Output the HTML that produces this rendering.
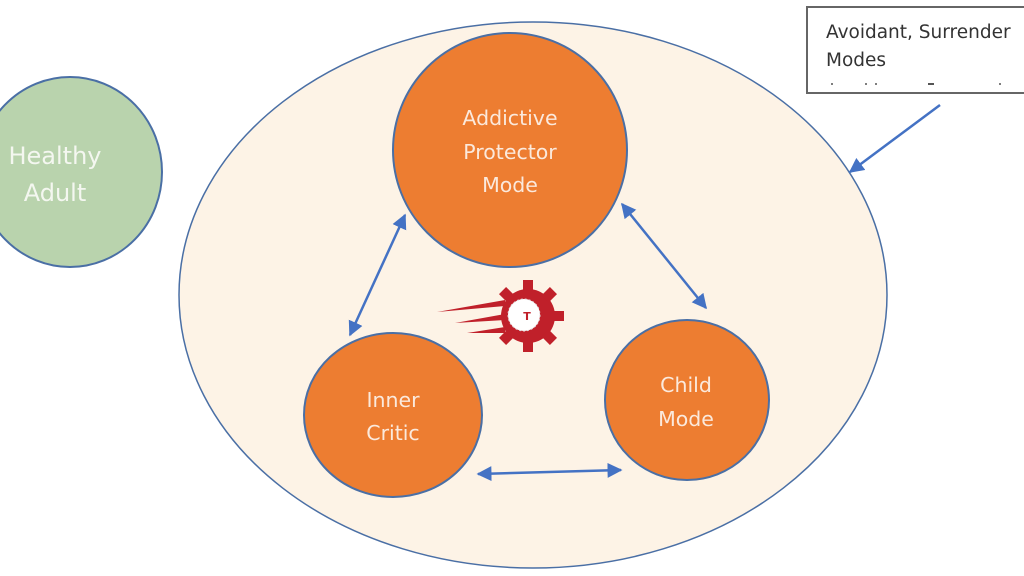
<!DOCTYPE html>
<html><head><meta charset="utf-8"><style>
html,body{margin:0;padding:0;background:#fff;width:1024px;height:576px;overflow:hidden}
text{font-family:"DejaVu Sans","Liberation Sans",sans-serif}
</style></head><body>
<svg width="1024" height="576" viewBox="0 0 1024 576" xmlns="http://www.w3.org/2000/svg">
<defs>
<marker id="a" viewBox="0 0 10 10" refX="9" refY="5" markerWidth="6" markerHeight="6" orient="auto-start-reverse">
<path d="M0,0 L10,5 L0,10 z" fill="#4472c4"/></marker>
</defs>
<rect width="1024" height="576" fill="#fff"/>
<ellipse cx="533" cy="295" rx="354" ry="273" fill="#fdf3e6" stroke="#4a6fa5" stroke-width="1.5"/>
<ellipse cx="70" cy="172" rx="92" ry="95" fill="#b9d3ad" stroke="#4a6fa5" stroke-width="2"/>
<text x="55" y="164" fill="#f4f7f0" font-size="24" text-anchor="middle">Healthy</text>
<text x="55" y="201" fill="#f4f7f0" font-size="24" text-anchor="middle">Adult</text>
<circle cx="510" cy="150" r="117" fill="#ed7d31" stroke="#4a6fa5" stroke-width="2"/>
<text x="510" y="125" fill="#fbe9dc" font-size="20.5" text-anchor="middle">Addictive</text>
<text x="510" y="159" fill="#fbe9dc" font-size="20.5" text-anchor="middle">Protector</text>
<text x="510" y="192" fill="#fbe9dc" font-size="20.5" text-anchor="middle">Mode</text>
<ellipse cx="393" cy="415" rx="89" ry="82" fill="#ed7d31" stroke="#4a6fa5" stroke-width="2"/>
<text x="393" y="407" fill="#fbe9dc" font-size="20.5" text-anchor="middle">Inner</text>
<text x="393" y="440" fill="#fbe9dc" font-size="20.5" text-anchor="middle">Critic</text>
<ellipse cx="687" cy="400" rx="82" ry="80" fill="#ed7d31" stroke="#4a6fa5" stroke-width="2"/>
<text x="686" y="392" fill="#fbe9dc" font-size="20.5" text-anchor="middle">Child</text>
<text x="686" y="426" fill="#fbe9dc" font-size="20.5" text-anchor="middle">Mode</text>
<g stroke="#4472c4" stroke-width="2.5" marker-start="url(#a)" marker-end="url(#a)">
<line x1="405" y1="215" x2="350" y2="335"/>
<line x1="622" y1="204" x2="706" y2="308"/>
<line x1="478" y1="474" x2="621" y2="470"/>
</g>
<line x1="940" y1="105" x2="850" y2="172" stroke="#4472c4" stroke-width="2.5" marker-end="url(#a)"/>
<rect x="807" y="7" width="230" height="86" fill="#fff" stroke="#666" stroke-width="2"/>
<text x="826" y="38" fill="#333" font-size="18.5">Avoidant, Surrender</text>
<text x="826" y="66" fill="#333" font-size="18.5">Modes</text>
<g fill="#555"><circle cx="832" cy="84" r="1"/><circle cx="866" cy="84" r="1"/><circle cx="876" cy="84" r="1"/><rect x="928" y="83" width="6" height="2"/><circle cx="1000" cy="84" r="1"/></g>
<g fill="#c0202a">
<polygon points="437,312 505,300 505,306"/>
<polygon points="455,323 505,314 505,320"/>
<polygon points="467,333 505,327 505,333"/>
<circle cx="528" cy="316" r="27"/>
<g transform="translate(528,316)">
<rect x="-5" y="-36" width="10" height="12"/>
<rect x="-5" y="-36" width="10" height="12" transform="rotate(45)"/>
<rect x="-5" y="-36" width="10" height="12" transform="rotate(90)"/>
<rect x="-5" y="-36" width="10" height="12" transform="rotate(135)"/>
<rect x="-5" y="-36" width="10" height="12" transform="rotate(180)"/>
<rect x="-5" y="-36" width="10" height="12" transform="rotate(-45)"/>
<rect x="-5" y="-36" width="10" height="12" transform="rotate(-135)"/>
</g>
</g>
<circle cx="524" cy="315" r="16" fill="#fff" stroke="#ddd" stroke-dasharray="2 2"/>
<text x="527" y="320" fill="#c0202a" font-size="11" font-weight="bold" text-anchor="middle">T</text>
</svg>
</body></html>
